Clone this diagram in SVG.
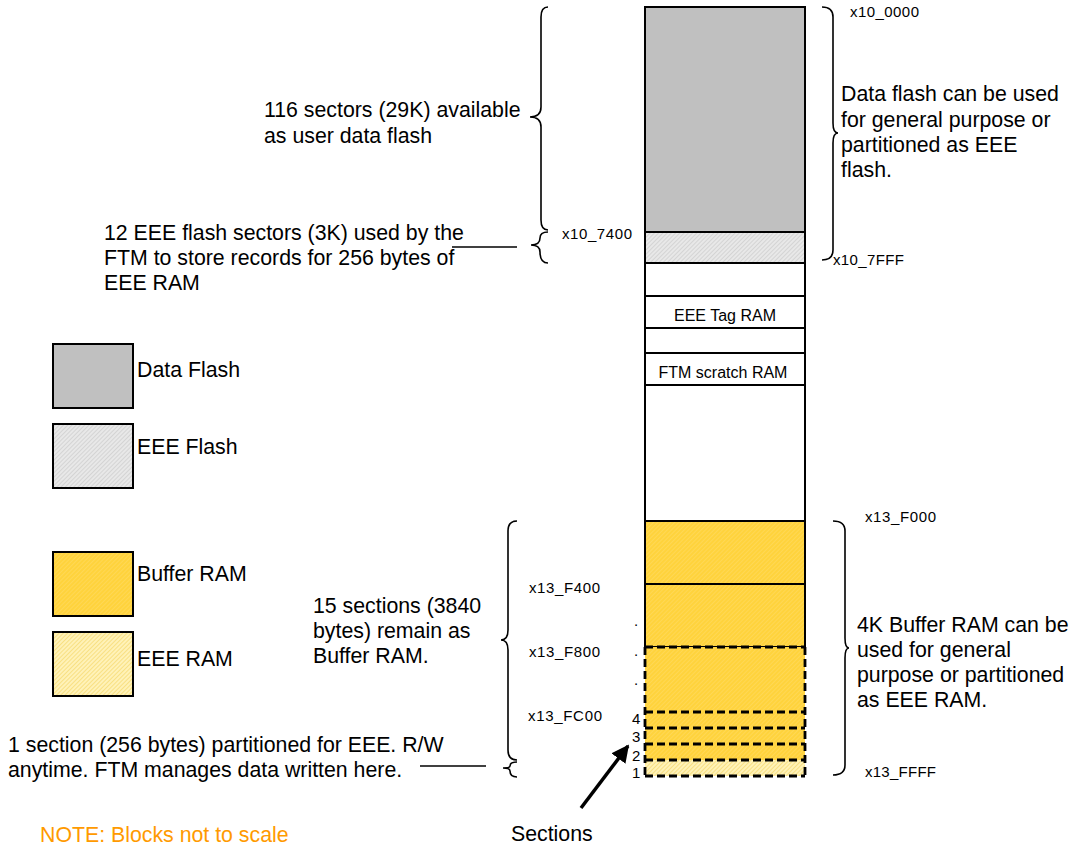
<svg xmlns="http://www.w3.org/2000/svg" width="1073" height="846" viewBox="0 0 1073 846">
<style>
text{font-family:"Liberation Sans",Arial,sans-serif;fill:#000}
.t{font-size:21.3px}
.s{font-size:15px}
.m{font-size:16px}
.n{font-size:15px}
.blk{stroke:#000;stroke-width:2}
.dash{fill:none;stroke:#000;stroke-width:2.8;stroke-dasharray:8 4}
.brace{fill:none;stroke:#000;stroke-width:1.6}
.ln{stroke:#000;stroke-width:1.6;fill:none}
.note{fill:#FF9A00;font-size:21.3px}
</style>
<defs>
<pattern id="pFlash" patternUnits="userSpaceOnUse" width="3" height="3" patternTransform="rotate(45)">
<rect width="3" height="3" fill="#e8e8e8"/><line x1="0" y1="0" x2="0" y2="3" stroke="#bdbdbd" stroke-width="0.9"/>
</pattern>
<pattern id="pBuf" patternUnits="userSpaceOnUse" width="3" height="3" patternTransform="rotate(45)">
<rect width="3" height="3" fill="#FFD33C"/><line x1="0" y1="0" x2="0" y2="3" stroke="#FFE07A" stroke-width="0.8"/>
</pattern>
<pattern id="pEram" patternUnits="userSpaceOnUse" width="3" height="3" patternTransform="rotate(45)">
<rect width="3" height="3" fill="#FFF2B8"/><line x1="0" y1="0" x2="0" y2="3" stroke="#F2CF4E" stroke-width="1"/>
</pattern>
<marker id="ah" viewBox="0 0 10 10" refX="9" refY="5" markerWidth="5" markerHeight="5" orient="auto" markerUnits="strokeWidth">
<path d="M0,0 L10,5 L0,10 z" fill="#000"/>
</marker>
</defs>
<rect width="1073" height="846" fill="#fff"/>

<g id="memory-column">
<rect x="645" y="7" width="160" height="225" fill="#C0C0C0" class="blk"/>
<rect x="645" y="232" width="160" height="31" fill="url(#pFlash)" class="blk"/>
<rect x="645" y="263" width="160" height="33" fill="#fff" class="blk"/>
<rect x="645" y="296" width="160" height="32" fill="#fff" class="blk"/>
<text x="725" y="321" class="m" text-anchor="middle">EEE Tag RAM</text>
<rect x="645" y="328" width="160" height="25" fill="#fff" class="blk"/>
<rect x="645" y="353" width="160" height="32" fill="#fff" class="blk"/>
<text x="723" y="378" class="m" text-anchor="middle">FTM scratch RAM</text>
<path d="M645,385 V521 M805,385 V521" class="blk"/>
<rect x="645" y="521" width="160" height="63" fill="url(#pBuf)" class="blk"/>
<rect x="645" y="584" width="160" height="63" fill="url(#pBuf)" class="blk"/>
<rect x="645" y="647" width="160" height="113" fill="url(#pBuf)"/>
<rect x="645" y="760" width="160" height="16" fill="url(#pEram)"/>
<path class="dash" d="M645,647 H805 M645,712 H805 M645,728 H805 M645,744 H805 M645,760 H805 M645,776 H805 M645,647 V776 M805,647 V776"/>
</g>

<g id="addresses">
<text x="850" y="17" class="s" textLength="69">x10_0000</text>
<text x="833" y="265" class="s" textLength="71">x10_7FFF</text>
<text x="562" y="239" class="s" textLength="70">x10_7400</text>
<text x="865" y="522" class="s" textLength="71">x13_F000</text>
<text x="529" y="593" class="s" textLength="71">x13_F400</text>
<text x="529" y="657" class="s" textLength="71">x13_F800</text>
<text x="528" y="721" class="s" textLength="74">x13_FC00</text>
<text x="865" y="777" class="s" textLength="71">x13_FFFF</text>
<text x="634" y="626" class="n">.</text>
<text x="634" y="656" class="n">.</text>
<text x="634" y="685" class="n">.</text>
<text x="632" y="724" class="n">4</text>
<text x="632" y="742" class="n">3</text>
<text x="632" y="761" class="n">2</text>
<text x="632" y="778" class="n">1</text>
</g>

<g id="connectors">
<path class="brace" d="M548,7 Q541,7 541,17 L541,107 Q541,117 530,117 Q541,117 541,127 L541,220 Q541,230 548,230"/>
<path class="brace" d="M548,232 Q540,232 540,238 Q540,245 531,245 Q540,245 540,252 Q540,263 548,263"/>
<path class="brace" d="M822,7 Q833,7 833,17 L833,123 Q833,133 838,133 Q833,133 833,143 L833,250 Q833,260 822,260"/>
<path class="brace" d="M517,521 Q508,521 508,531 L508,630 Q508,640 501,640 Q508,640 508,650 L508,750 Q508,760 517,760"/>
<path class="brace" d="M517,762 Q510,762 510,766 Q510,768 503,768 Q510,768 510,771 Q510,777 517,777"/>
<path class="brace" d="M833,521 Q845,521 845,531 L845,638 Q845,648 849,648 Q845,648 845,658 L845,765 Q845,775 833,775"/>
<line x1="452" y1="247" x2="517" y2="247" class="ln"/>
<line x1="420" y1="766" x2="486" y2="766" class="ln"/>
<line x1="581" y1="808" x2="628" y2="746" stroke="#000" stroke-width="3.5" marker-end="url(#ah)"/>
</g>

<g id="annotations">
<text x="264" y="117" class="t">116 sectors (29K) available</text>
<text x="264" y="143" class="t">as user data flash</text>
<text x="104" y="240" class="t">12 EEE flash sectors (3K) used by the</text>
<text x="104" y="265" class="t">FTM to store records for 256 bytes of</text>
<text x="104" y="290" class="t">EEE RAM</text>
<text x="841" y="101" class="t">Data flash can be used</text>
<text x="841" y="127" class="t">for general purpose or</text>
<text x="841" y="152" class="t">partitioned as EEE</text>
<text x="841" y="177" class="t">flash.</text>
<text x="313" y="613" class="t">15 sections (3840</text>
<text x="313" y="638" class="t">bytes) remain as</text>
<text x="313" y="663" class="t">Buffer RAM.</text>
<text x="857" y="632" class="t">4K Buffer RAM can be</text>
<text x="857" y="657" class="t">used for general</text>
<text x="857" y="682" class="t">purpose or partitioned</text>
<text x="857" y="707" class="t">as EEE RAM.</text>
<text x="8" y="752" class="t">1 section (256 bytes) partitioned for EEE. R/W</text>
<text x="8" y="777" class="t">anytime. FTM manages data written here.</text>
<text x="511" y="841" class="t">Sections</text>
<text x="40" y="842" class="note">NOTE: Blocks not to scale</text>
</g>

<g id="legend-data-flash">
<rect x="53" y="344" width="80" height="64" fill="#C0C0C0" class="blk"/>
<text x="137" y="377" class="t">Data Flash</text>
</g>
<g id="legend-eee-flash">
<rect x="53" y="424" width="80" height="64" fill="url(#pFlash)" class="blk"/>
<text x="137" y="454" class="t">EEE Flash</text>
</g>
<g id="legend-buffer-ram">
<rect x="53" y="552" width="80" height="64" fill="url(#pBuf)" class="blk"/>
<text x="137" y="581" class="t">Buffer RAM</text>
</g>
<g id="legend-eee-ram">
<rect x="53" y="632" width="80" height="64" fill="url(#pEram)" class="blk"/>
<text x="137" y="666" class="t">EEE RAM</text>
</g>
</svg>
